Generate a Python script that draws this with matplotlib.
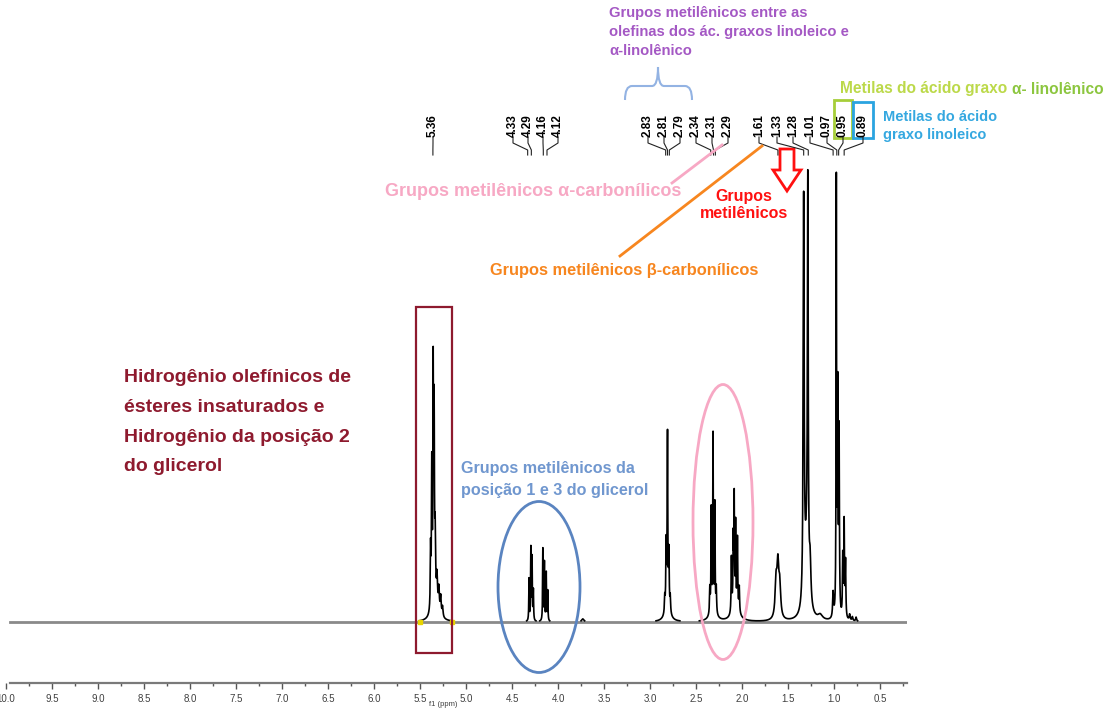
import numpy as np
import matplotlib
matplotlib.use("Agg")
import matplotlib.pyplot as plt
from matplotlib.patches import Rectangle, Ellipse, Polygon, PathPatch
from matplotlib.path import Path
from matplotlib.ticker import MultipleLocator, FormatStrFormatter

W, H, DPI = 1107, 718, 100
plt.rcParams['font.family'] = ['Liberation Sans', 'DejaVu Sans']

# 1H NMR lines: chemical shift (ppm), intensity (a.u.), half width (ppm)
peak_ppm = [5.385, 5.372, 5.357, 5.347, 5.335, 5.315, 5.295, 5.275, 5.255, 5.33,
            4.315, 4.295, 4.282, 4.268, 4.165, 4.148, 4.128, 4.112,
            3.73,
            2.84, 2.825, 2.81, 2.795, 2.78, 2.81,
            2.35, 2.335, 2.315, 2.295, 2.28, 2.315,
            2.115, 2.095, 2.085, 2.07, 2.05, 2.03, 2.07,
            1.63, 1.61, 1.59,
            1.33, 1.285, 1.30, 1.26, 1.15,
            1.01, 0.975, 0.96, 0.945,
            0.905, 0.89, 0.875,
            0.83, 0.80, 0.76]
peak_int = [60, 140, 225, 185, 65, 28, 22, 18, 10, 15,
            42, 72, 62, 30, 72, 58, 48, 30,
            3,
            15, 65, 170, 55, 15, 14,
            25, 100, 170, 105, 25, 15,
            55, 70, 105, 80, 70, 25, 15,
            35, 50, 30,
            400, 395, 60, 40, 5,
            25, 430, 220, 180,
            60, 95, 55,
            6, 4, 4]
peak_hw = [0.004, 0.004, 0.0035, 0.004, 0.005, 0.006, 0.006, 0.006, 0.006, 0.04,
           0.003, 0.003, 0.003, 0.003, 0.003, 0.003, 0.003, 0.003,
           0.015,
           0.004, 0.004, 0.0035, 0.004, 0.004, 0.03,
           0.004, 0.003, 0.003, 0.003, 0.004, 0.03,
           0.004, 0.004, 0.003, 0.003, 0.004, 0.004, 0.04,
           0.012, 0.012, 0.012,
           0.006, 0.005, 0.025, 0.01, 0.03,
           0.006, 0.003, 0.004, 0.004,
           0.004, 0.004, 0.004,
           0.006, 0.006, 0.006]

# Peak-picking labels (ppm) and horizontal slot of each label
label_ppm = [5.36, 4.33, 4.29, 4.16, 4.12, 2.83, 2.81, 2.79, 2.34, 2.31, 2.29,
             1.61, 1.33, 1.28, 1.01, 0.97, 0.95, 0.89]
label_slot = [433, 513, 528, 543, 558, 648, 664, 680, 696, 712, 728,
              759, 777, 793, 810, 827, 843, 863]

# Integration limits of the olefinic region
integral_ppm = [5.50, 5.15]

ppm = np.linspace(0.2, 10.0, 60000)
spec = np.zeros_like(ppm)
for x0, a, g in zip(peak_ppm, peak_int, peak_hw):
    spec += a / (1.0 + ((ppm - x0) / g) ** 2)

fig = plt.figure(figsize=(W / DPI, H / DPI), dpi=DPI)
fig.patch.set_facecolor('white')

# spectrum axes (ppm decreasing to the right)
ax = fig.add_axes([6 / W, (H - 683) / H, 901 / W, 683 / H])
ax.set_xlim(10.0, 0.207)
ax.set_ylim(-61, 622)
ax.patch.set_alpha(0)
for s in ('left', 'right', 'top'):
    ax.spines[s].set_visible(False)
ax.spines['bottom'].set_color('#7a7a7a')
ax.spines['bottom'].set_linewidth(1.6)
ax.spines['bottom'].set_bounds(9.957, 0.207)
ax.yaxis.set_visible(False)
ax.xaxis.set_major_locator(MultipleLocator(0.5))
ax.xaxis.set_minor_locator(MultipleLocator(0.25))
ax.xaxis.set_major_formatter(FormatStrFormatter('%.1f'))
ax.tick_params(axis='x', which='major', direction='out', length=4, width=1,
               color='#555555', labelsize=7, labelcolor='#404040', pad=4)
ax.tick_params(axis='x', which='minor', direction='out', length=2, width=1,
               color='#555555')
ax.set_xlabel('f1 (ppm)', fontsize=5.5, color='#404040')
ax.xaxis.set_label_coords((443 - 6) / 901, -0.027)

ax.plot([9.957, 0.207], [0, 0], color='#8a8a8a', lw=2.0, zorder=1)
ax.plot(ppm, np.ma.masked_less(spec, 1.2), color='black', lw=1.2, zorder=2)
ax.plot(integral_ppm, [0, 0], 's', color='#e8d400', ms=2.5, zorder=3)

# overlay in pixel coordinates for the annotations
over = fig.add_axes([0, 0, 1, 1])
over.set_xlim(0, W)
over.set_ylim(H, 0)
over.axis('off')
over.patch.set_visible(False)


def ppm_px(v):
    d = ax.transData.transform((v, 0))
    return over.transData.inverted().transform(d)[0]


# peak labels with connectors
for p, lx in zip(label_ppm, label_slot):
    over.text(lx, 137, f'{p:.2f}', rotation=90, ha='center', va='bottom',
              fontsize=8.5, fontweight='bold', color='black')
    px = ppm_px(p)
    over.plot([lx, lx, px, px], [137, 143, 150, 155], color='#222222', lw=0.8)

# olefinic region box and caption
over.add_patch(Rectangle((416, 307), 36, 346, fill=False, ec='#8e1a2e', lw=1.6))
maroon_lines = ['Hidrogênio olefínicos de', 'ésteres insaturados e',
                'Hidrogênio da posição 2', 'do glicerol']
for i, t in enumerate(maroon_lines):
    over.text(124, 378 + i * 29.5, t, fontsize=14, fontweight='bold',
              color='#8e1a2e', ha='left', va='center')

# glycerol CH2
over.add_patch(Ellipse((539, 587), 82, 171, fill=False, ec='#5a84c0', lw=2))
for i, t in enumerate(['Grupos metilênicos da', 'posição 1 e 3 do glicerol']):
    over.text(461, 468 + i * 22, t, fontsize=11.6, fontweight='bold',
              color='#7097cf', ha='left', va='center')

# alpha-carbonyl CH2
over.add_patch(Ellipse((723, 522), 60, 275, fill=False, ec='#f7a8c4', lw=2))
over.plot([672, 722], [183, 145], color='#f7a8c4', lw=2)
over.text(385, 191, 'Grupos metilênicos α-carbonílicos', fontsize=13,
          fontweight='bold', color='#f7a8c4', ha='left', va='center')

# beta-carbonyl CH2
over.plot([620, 762], [256, 146], color='#f7861f', lw=2)
over.text(490, 270, 'Grupos metilênicos β-carbonílicos', fontsize=11.8,
          fontweight='bold', color='#f7861f', ha='left', va='center')

# bulk CH2 arrow
arrow = [(780, 149), (794, 149), (794, 170), (801, 170), (787, 191),
         (773, 170), (780, 170)]
over.add_patch(Polygon(arrow, closed=True, fc='white', ec='#ff1010', lw=2))
over.text(744, 196, 'Grupos', fontsize=11.5, fontweight='bold',
          color='#ff1010', ha='center', va='center')
over.text(744, 213, 'metilênicos', fontsize=11.5, fontweight='bold',
          color='#ff1010', ha='center', va='center')

# bis-allylic CH2 with brace
for i, t in enumerate(['Grupos metilênicos entre as',
                       'olefinas dos ác. graxos linoleico e',
                       'α-linolênico']):
    over.text(609, 13 + i * 19, t, fontsize=10.6, fontweight='bold',
              color='#a458c4', ha='left', va='center')
brace = Path([(625, 100), (625, 86), (632, 86),
              (652, 86), (658, 86), (658, 67),
              (658, 86), (664, 86), (685, 86),
              (692, 86), (692, 100)],
             [Path.MOVETO, Path.CURVE3, Path.CURVE3,
              Path.LINETO, Path.CURVE3, Path.CURVE3,
              Path.CURVE3, Path.CURVE3, Path.LINETO,
              Path.CURVE3, Path.CURVE3])
over.add_patch(PathPatch(brace, fill=False, ec='#93b3e3', lw=1.5))

# terminal methyls
over.add_patch(Rectangle((834, 100), 18, 38, fill=False, ec='#a6ce39', lw=2))
over.add_patch(Rectangle((853, 102), 20, 36, fill=False, ec='#2aa4e0', lw=2))
t1 = over.text(840, 89, 'Metilas do ácido graxo ', fontsize=11.2,
               fontweight='bold', color='#bcd94a', ha='left', va='center')
over.annotate('α- linolênico', xy=(1, 0.5), xycoords=t1, fontsize=11.2,
              fontweight='bold', color='#8cc63f', ha='left', va='center')
for i, t in enumerate(['Metilas do ácido', 'graxo linoleico']):
    over.text(883, 117 + i * 18, t, fontsize=10.5, fontweight='bold',
              color='#35a8e0', ha='left', va='center')

fig.savefig('out.png', dpi=DPI, facecolor='white')
